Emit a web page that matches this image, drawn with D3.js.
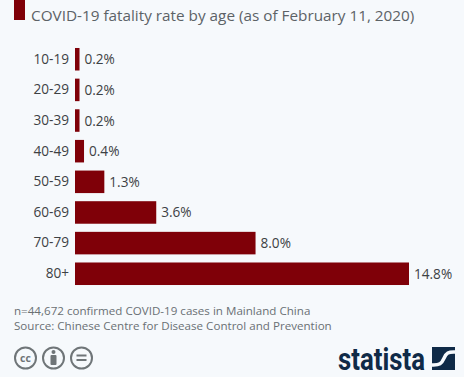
<!DOCTYPE html>
<html><head><meta charset="utf-8">
<script src="https://cdn.jsdelivr.net/npm/d3@7"></script>
<style>html,body{margin:0;padding:0;background:#f6f9fc;overflow:hidden}svg{display:block;font-family:"Open Sans",sans-serif}</style>
</head><body><svg id="c" width="464" height="377"></svg>
<script>
const categories=["10-19","20-29","30-39","40-49","50-59","60-69","70-79","80+"];
const values=[0.2,0.2,0.2,0.4,1.3,3.6,8.0,14.8];
const title="COVID-19 fatality rate by age (as of February 11, 2020)";
const notes=["n=44,672 confirmed COVID-19 cases in Mainland China","Source: Chinese Centre for Disease Control and Prevention"];
const svg=d3.select("#c");
const red="#7f0008";
const x=d3.scaleLinear().domain([0,14.8]).range([75,409]);
const y=d3.scaleBand().domain(categories).range([44,289]).paddingInner(0.265).paddingOuter(0.13);
svg.append("rect").attr("x",14).attr("y",0).attr("width",11).attr("height",20).attr("fill",red);
svg.append("text").attr("x",31).attr("y",21).attr("font-size",15.3).attr("fill","#5c6266").text(title);
svg.selectAll(".bar").data(values).join("rect").attr("class","bar")
 .attr("x",x(0)).attr("y",(d,i)=>y(categories[i])).attr("width",d=>x(d)-x(0)).attr("height",y.bandwidth()).attr("fill",red);
svg.selectAll(".lab").data(values).join("text").attr("class","lab")
 .attr("x",d=>x(d)+5).attr("y",(d,i)=>y(categories[i])+y.bandwidth()/2+5)
 .attr("font-size",13.6).attr("fill","#3d4144").text(d=>d.toFixed(1)+"%");
const axis=d3.axisLeft(y).tickSize(0).tickPadding(6);
const g=svg.append("g").attr("transform","translate(75,0)").call(axis);
g.select(".domain").remove();
g.selectAll("text").attr("font-size",13.6).attr("font-family","Open Sans").attr("fill","#3d4144");
svg.selectAll(".note").data(notes).join("text").attr("class","note").attr("x",14).attr("y",(d,i)=>315+i*14.5)
 .attr("font-size",11.6).attr("fill","#6a7074").text(d=>d);
// licence icons
const ic=svg.append("g").attr("fill","none").attr("stroke","#6f7578").attr("stroke-width",2);
[25.5,53.5,81.5].forEach(cx=>ic.append("circle").attr("cx",cx).attr("cy",358).attr("r",10.5));
svg.append("text").attr("x",25.5).attr("y",361.5).attr("text-anchor","middle").attr("font-size",10.5).attr("font-weight",700).attr("fill","#6f7578").text("cc");
svg.append("circle").attr("cx",53.5).attr("cy",352).attr("r",2).attr("fill","#6f7578");
svg.append("rect").attr("x",50.5).attr("y",355).attr("width",6).attr("height",10).attr("rx",1).attr("fill","#6f7578");
[355.5,360].forEach(yy=>svg.append("rect").attr("x",76.5).attr("y",yy-1).attr("width",10).attr("height",2).attr("fill","#6f7578"));
// logo
svg.append("text").attr("x",338).attr("y",369.5).attr("font-size",31).attr("font-weight",700).attr("font-family","Roboto, sans-serif").attr("textLength",87).attr("lengthAdjust","spacingAndGlyphs").attr("fill","#0f2a47").text("statista");
svg.append("rect").attr("x",432).attr("y",347).attr("width",23).attr("height",23).attr("fill","#0f2a47");
svg.append("path").attr("d",d3.line().curve(d3.curveBasis)([[432,365],[441,365],[444,358],[447,352],[455,352]])).attr("fill","none").attr("stroke","#f6f9fc").attr("stroke-width",3.5);
</script></body></html>
